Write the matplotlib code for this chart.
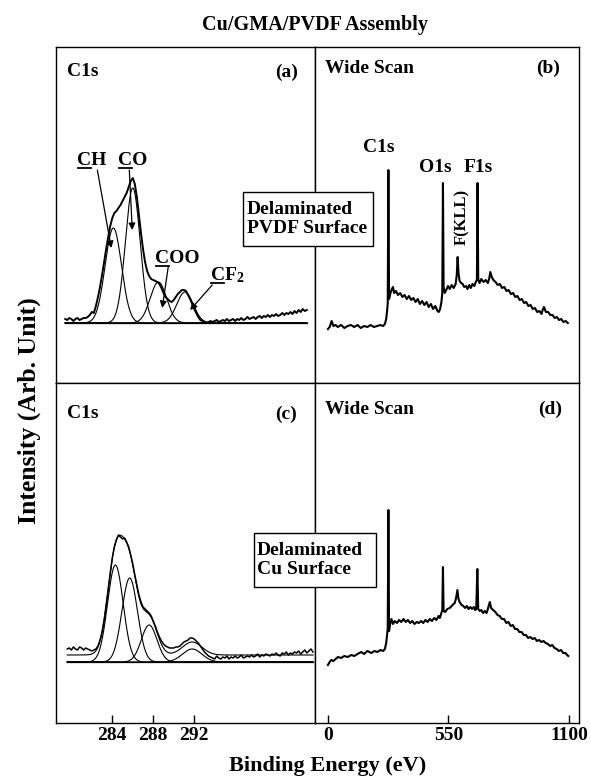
import numpy as np
import matplotlib
matplotlib.use("Agg")
import matplotlib.pyplot as plt
from matplotlib.patches import Rectangle
from matplotlib.lines import Line2D

plt.rcParams['font.family'] = ['Liberation Serif', 'DejaVu Serif']
plt.rcParams['font.weight'] = 'bold'
plt.rcParams['mathtext.fontset'] = 'custom'
plt.rcParams['mathtext.rm'] = 'Liberation Serif:bold'
plt.rcParams['mathtext.bf'] = 'Liberation Serif:bold'
plt.rcParams['mathtext.it'] = 'Liberation Serif:bold:italic'
plt.rcParams['mathtext.default'] = 'rm'

# ---- (a) C1s, delaminated PVDF surface (raw spectrum, 0.2 eV steps) ----
a_ev = np.arange(279.4, 303.01, 0.2)
a_int = [64, 63, 65, 64, 62, 64, 65, 63, 64, 65,
         65, 66, 68, 71, 70, 77, 86, 96, 108, 121,
         134, 146, 157, 165, 170, 172, 175, 178, 182, 186,
         190, 196, 202, 205, 199, 186, 168, 150, 134, 121,
         112, 107, 104, 103, 102, 101, 99, 95, 90, 86,
         84, 82, 81, 83, 86, 89, 91, 93, 93, 92,
         88, 84, 79, 74, 70, 66, 63, 62, 61, 60,
         61, 62, 61, 62, 63, 61, 62, 63, 62, 64,
         62, 63, 64, 62, 64, 63, 65, 63, 64, 66,
         64, 65, 66, 64, 66, 67, 65, 67, 66, 68,
         66, 68, 67, 69, 67, 68, 70, 68, 70, 69,
         71, 69, 72, 70, 73, 71, 74, 72, 73]
a_base = 60
a_names = ['CH', 'CO', 'COO', 'CF2']
a_center = [284.1, 286.0, 288.5, 291.1]
a_height = [95, 135, 41, 31]
a_sigma = [0.8, 0.72, 0.8, 0.8]

# ---- (c) C1s, delaminated Cu surface ----
c_ev = np.arange(279.6, 303.61, 0.2)
c_int = [74, 75, 73, 76, 74, 73, 76, 75, 73, 75,
         74, 73, 72, 73, 74, 77, 83, 91, 103, 118,
         134, 150, 165, 176, 183, 188, 186, 184, 185, 181,
         176, 168, 159, 148, 138, 128, 121, 116, 114, 112,
         110, 107, 102, 97, 91, 86, 82, 79, 77, 76,
         75, 75, 75, 76, 76, 77, 79, 81, 82, 83,
         85, 85, 84, 82, 80, 77, 74, 71, 69, 67,
         66, 65, 64, 67, 65, 64, 66, 65, 67, 64,
         66, 65, 67, 65, 66, 68, 65, 66, 67, 66,
         68, 66, 67, 69, 66, 68, 67, 69, 68, 67,
         69, 68, 70, 68, 67, 70, 69, 71, 68, 70,
         69, 71, 70, 72, 69, 71, 73, 70, 72, 74, 71]
c_base = 61
c_bg = 68
c_center = [284.3, 285.7, 287.6, 291.8]
c_height = [97, 84, 37, 13]
c_sigma = [0.76, 0.76, 0.76, 0.95]

# ---- (b) wide scan, PVDF side ----
b_be = [0, 8, 17, 25, 35, 45, 60, 75, 90, 105,
        120, 135, 150, 165, 180, 195, 210, 225, 240, 252,
        260, 266, 270, 273, 276, 279, 283, 287, 292, 297,
        302, 310, 320, 330, 340, 350, 360, 370, 380, 390,
        400, 410, 420, 430, 440, 450, 460, 470, 480, 490,
        500, 506, 512, 518, 522, 525, 528, 533, 540, 548,
        556, 565, 574, 583, 588, 592, 596, 601, 608, 615,
        622, 630, 637, 645, 652, 660, 668, 675, 680, 683,
        686, 692, 700, 710, 720, 730, 736, 741, 748, 755,
        765, 775, 785, 795, 805, 815, 825, 835, 845, 855,
        865, 875, 885, 895, 905, 915, 925, 935, 945, 955,
        965, 975, 980, 986, 995, 1005, 1015, 1025, 1035, 1045,
        1055, 1065, 1075, 1085, 1095]
b_int = [54, 56, 62, 57, 58, 56, 58, 55, 57, 58,
         56, 58, 55, 57, 56, 58, 56, 57, 58, 57,
         59, 64, 72, 80, 213, 84, 88, 91, 94, 96,
         90, 92, 88, 90, 86, 88, 84, 87, 83, 85,
         81, 84, 79, 82, 78, 81, 76, 79, 74, 77,
         72, 71, 74, 81, 90, 200, 96, 90, 93, 97,
         94, 98, 95, 99, 108, 126, 110, 102, 100, 99,
         96, 97, 94, 98, 95, 99, 97, 101, 103, 200,
         104, 100, 104, 101, 103, 100, 104, 111, 106, 103,
         101, 98, 99, 95, 96, 92, 93, 89, 90, 86,
         87, 83, 84, 80, 81, 77, 78, 74, 75, 71,
         72, 69, 73, 76, 71, 71, 68, 68, 65, 66,
         63, 64, 61, 62, 60]

# ---- (d) wide scan, Cu side ----
d_be = [0, 8, 15, 25, 35, 46, 60, 75, 90, 107,
        120, 135, 152, 165, 180, 198, 212, 225, 240, 252,
        260, 266, 270, 273, 276, 279, 283, 290, 297, 305,
        315, 325, 335, 345, 355, 365, 375, 385, 395, 405,
        415, 425, 435, 445, 455, 465, 475, 485, 495, 505,
        511, 518, 522, 525, 528, 535, 545, 556, 565, 573,
        579, 585, 591, 596, 601, 610, 618, 626, 634, 642,
        650, 658, 666, 672, 677, 682, 686, 693, 700, 708,
        716, 724, 730, 735, 739, 745, 754, 764, 774, 784,
        794, 804, 814, 824, 834, 844, 854, 864, 874, 884,
        894, 904, 914, 924, 934, 944, 954, 964, 974, 984,
        994, 1004, 1014, 1024, 1034, 1044, 1054, 1064, 1074, 1084,
        1092, 1097]
d_int = [58, 61, 63, 62, 64, 66, 65, 67, 66, 68,
         67, 69, 71, 69, 72, 70, 72, 71, 73, 72,
         74, 80, 88, 95, 213, 92, 98, 104, 99, 102,
         100, 103, 101, 104, 101, 103, 100, 102, 99, 101,
         100, 102, 100, 103, 101, 104, 102, 105, 103, 107,
         105, 110, 113, 156, 112, 111, 114, 115, 117, 119,
         120, 125, 133, 124, 121, 118, 117, 115, 117, 114,
         116, 114, 116, 113, 114, 154, 114, 112, 113, 110,
         112, 110, 114, 118, 121, 115, 113, 111, 108, 107,
         104, 104, 100, 101, 97, 98, 94, 94, 91, 91,
         88, 88, 85, 86, 84, 85, 82, 83, 81, 82,
         80, 79, 77, 78, 75, 74, 72, 73, 70, 70,
         68, 67]

c1s_ticks = [284, 288, 292]
wide_ticks = [0, 550, 1100]


def gauss(x, c, h, s):
    return h * np.exp(-(x - c) ** 2 / (2 * s ** 2))


W, H = 591, 782
fig = plt.figure(figsize=(W / 100, H / 100), dpi=100)


def px_axes(x0, y0, x1, y1):
    return fig.add_axes([x0 / W, 1 - y1 / H, (x1 - x0) / W, (y1 - y0) / H])


ax_a = px_axes(56, 47, 315, 383)
ax_b = px_axes(315, 47, 579, 383)
ax_c = px_axes(56, 383, 315, 723)
ax_d = px_axes(315, 383, 579, 723)

for ax in (ax_a, ax_b, ax_c, ax_d):
    for s in ax.spines.values():
        s.set_linewidth(1.0)
    ax.set_yticks([])
for ax in (ax_a, ax_c):
    ax.set_xlim(278.5, 303.8)
for ax in (ax_b, ax_d):
    ax.set_xlim(-59, 1146)
ax_a.set_ylim(0, 336)
ax_b.set_ylim(0, 336)
ax_c.set_ylim(0, 340)
ax_d.set_ylim(0, 340)
ax_a.set_xticks([])
ax_b.set_xticks([])
ax_c.set_xticks(c1s_ticks)
ax_d.set_xticks(wide_ticks)
for ax in (ax_c, ax_d):
    ax.tick_params(axis='x', direction='in', length=6, width=1, pad=3,
                   labelsize=14)

# panel (a)
xa = np.linspace(a_ev[0], a_ev[-1], 800)
ax_a.plot([a_ev[0], a_ev[-1]], [a_base, a_base], color='k', lw=0.9)
for c, h, s in zip(a_center, a_height, a_sigma):
    ax_a.plot(xa, a_base + gauss(xa, c, h, s), color='k', lw=0.8)
ax_a.plot(a_ev, a_int, color='k', lw=1.4)

# panel (c)
xc = np.linspace(c_ev[0], c_ev[-1], 800)
ax_c.plot([c_ev[0], c_ev[-1]], [c_base, c_base], color='k', lw=0.9)
fit = np.zeros_like(xc)
for c, h, s in zip(c_center, c_height, c_sigma):
    ax_c.plot(xc, c_base + gauss(xc, c, h, s), color='k', lw=0.8)
    fit += gauss(xc, c, h, s)
ax_c.plot(xc, c_bg + fit, color='k', lw=0.8)
ax_c.plot(c_ev, c_int, color='k', lw=1.1)

# wide scans
ax_b.plot(b_be, b_int, color='k', lw=1.5)
ax_d.plot(d_be, d_int, color='k', lw=1.5)

# panel headings
ax_a.text(0.0425, 0.926, 'C1s', transform=ax_a.transAxes, fontsize=14, va='center')
ax_a.text(0.934, 0.926, '(a)', transform=ax_a.transAxes, fontsize=14, va='center', ha='right')
ax_b.text(0.038, 0.935, 'Wide Scan', transform=ax_b.transAxes, fontsize=14, va='center')
ax_b.text(0.928, 0.935, '(b)', transform=ax_b.transAxes, fontsize=14, va='center', ha='right')
ax_c.text(0.0425, 0.909, 'C1s', transform=ax_c.transAxes, fontsize=14, va='center')
ax_c.text(0.93, 0.909, '(c)', transform=ax_c.transAxes, fontsize=14, va='center', ha='right')
ax_d.text(0.038, 0.922, 'Wide Scan', transform=ax_d.transAxes, fontsize=14, va='center')
ax_d.text(0.936, 0.922, '(d)', transform=ax_d.transAxes, fontsize=14, va='center', ha='right')

# wide scan peak labels
ax_b.text(233, 235, 'C1s', fontsize=14, ha='center', va='center')
ax_b.text(489, 216, 'O1s', fontsize=14, ha='center', va='center')
ax_b.text(684, 216, 'F1s', fontsize=14, ha='center', va='center')
ax_b.text(612, 166, 'F(KLL)', fontsize=12, ha='center', va='center', rotation=90)

# component labels with underlined C and arrows
lab_pos = [(280.6, 218), (284.6, 218), (288.2, 120), (293.56, 103)]
lab_txt = ['CH', 'CO', 'COO', 'CF$_2$']
arrow_from = [(282.54, 213), (285.66, 213), (289.46, 116), (293.76, 98)]
arrow_to = [(283.9, 135), (285.95, 153), (288.88, 75), (291.6, 73)]
c_marks = []
for (x, y), t in zip(lab_pos, lab_txt):
    ax_a.text(x, y, t, fontsize=14, ha='left', va='baseline')
    c_marks.append(ax_a.text(x, y, 'C', fontsize=14, ha='left', va='baseline', alpha=0))
for p0, p1 in zip(arrow_from, arrow_to):
    ax_a.annotate('', xy=p1, xytext=p0,
                  arrowprops=dict(arrowstyle='-|>', color='k', lw=0.9,
                                  shrinkA=0, shrinkB=0, mutation_scale=10))

# sample boxes
fig.add_artist(Rectangle((243 / W, 1 - 246 / H), 130 / W, 54 / H,
                         transform=fig.transFigure, fc='white', ec='k', lw=1, zorder=5))
fig.text(247 / W, 1 - 219 / H, 'Delaminated\nPVDF Surface', fontsize=14,
         ha='left', va='center', linespacing=1.15, zorder=6)
fig.add_artist(Rectangle((254 / W, 1 - 587 / H), 122 / W, 54 / H,
                         transform=fig.transFigure, fc='white', ec='k', lw=1, zorder=5))
fig.text(257 / W, 1 - 560 / H, 'Delaminated\nCu Surface', fontsize=14,
         ha='left', va='center', linespacing=1.15, zorder=6)

fig.text(315 / W, 1 - 25 / H, 'Cu/GMA/PVDF Assembly', fontsize=14.5, ha='center', va='center')
fig.text(328 / W, 1 - 766 / H, 'Binding Energy (eV)', fontsize=16, ha='center', va='center')
fig.text(29 / W, 1 - 411 / H, 'Intensity (Arb. Unit)', fontsize=18.5, ha='center',
         va='center', rotation=90)

# underline the C in each component label
fig.canvas.draw()
r = fig.canvas.get_renderer()
inv = fig.transFigure.inverted()
for t, (x, y) in zip(c_marks, lab_pos):
    bb = t.get_window_extent(r)
    yb = ax_a.transData.transform((x, y))[1] - 2.5
    (fx0, fy), (fx1, _) = inv.transform([(bb.x0 + 0.5, yb), (bb.x1 - 0.5, yb)])
    fig.add_artist(Line2D([fx0, fx1], [fy, fy], color='k', lw=1.3))

fig.savefig('out.png', dpi=100)
